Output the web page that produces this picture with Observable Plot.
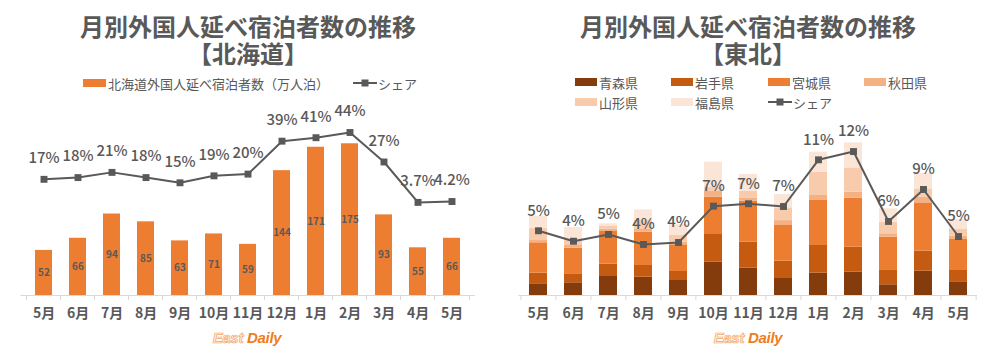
<!DOCTYPE html>
<html>
<head>
<meta charset="utf-8">
<script src="https://cdn.jsdelivr.net/npm/d3@7"></script>
<script src="https://cdn.jsdelivr.net/npm/@observablehq/plot@0.6"></script>
<style>
  body { margin: 0; background: #fff; }
  #wrap { position: relative; width: 1000px; height: 357px; overflow: hidden; background: #fff;
          font-family: "Noto Sans CJK JP", sans-serif; color: #595959; }
  .chart { position: absolute; top: 0; }
  .title { position: absolute; top: 12px; width: 500px; text-align: center; font-weight: bold;
           font-size: 24px; line-height: 27px; color: #595959; z-index: 2; }
  .leg { position: absolute; height: 16px; display: flex; align-items: center; white-space: nowrap;
         font-size: 13px; color: #595959; z-index: 2; }
  .sw { display: inline-block; width: 22px; height: 8px; margin-right: 2px; }
  .logo { position: absolute; top: 329px; width: 80px; text-align: center; font-family: "Liberation Sans", Arial, sans-serif;
          font-style: italic; font-weight: bold; font-size: 15px; letter-spacing: -0.3px; z-index: 2; }
  .logo .e { color: #fde9d9; -webkit-text-stroke: 0.7px #f5a96c; }
  .logo .d { color: #f07c1c; }
</style>
</head>
<body>
<div id="wrap"></div>
<script>
// ---- data ----
const months = ["5月","6月","7月","8月","9月","10月","11月","12月","1月","2月","3月","4月","5月"];

// Hokkaido: foreign overnight stays (万人泊) and share
const hkdValues = [52, 66, 94, 85, 63, 71, 59, 144, 171, 175, 93, 55, 66];
const hkdShare = [17, 18, 21, 18, 15, 19, 20, 39, 41, 44, 27, 3.7, 4.2];
const hkdShareLabels = ["17%","18%","21%","18%","15%","19%","20%","39%","41%","44%","27%","3.7%","4.2%"];

// Tohoku: stacked by prefecture (estimated, 万人泊) and share
const prefs = ["青森県","岩手県","宮城県","秋田県","山形県","福島県"];
const prefColors = ["#843c0c","#c55a11","#ed7d31","#f4b183","#f8cbad","#fbe5d6"];
const aomori    = [1.17, 1.27, 1.90, 1.83, 1.50, 3.33, 2.73, 1.70, 2.23, 2.33, 1.07, 2.43, 1.37];
const iwate     = [1.07, 0.90, 1.23, 1.17, 0.90, 2.77, 2.60, 1.73, 2.77, 2.50, 1.50, 2.00, 1.13];
const miyagi    = [3.03, 2.57, 3.27, 3.33, 2.67, 3.73, 4.10, 3.63, 4.50, 4.90, 3.27, 4.83, 3.10];
const akita     = [0.23, 0.33, 0.23, 0.33, 0.27, 0.60, 0.33, 0.43, 0.50, 0.60, 0.33, 0.57, 0.33];
const yamagata  = [1.23, 0.60, 0.27, 0.83, 0.67, 0.40, 0.67, 1.27, 2.33, 2.43, 1.17, 0.83, 0.67];
const fukushima = [1.20, 1.13, 0.27, 1.07, 1.07, 2.50, 1.67, 1.33, 2.00, 2.50, 1.33, 1.57, 1.00];
const tohokuShare = [5.02, 4.11, 4.70, 3.83, 4.00, 7.16, 7.37, 7.13, 11.19, 11.91, 5.83, 8.61, 4.52];
const tohokuShareLabels = ["5%","4%","5%","4%","4%","7%","7%","7%","11%","12%","6%","9%","5%"];

// ---- build ----
const font = '"Noto Sans CJK JP", sans-serif';
const grey = "#595959";
const idx = d3.range(months.length);
const wrap = document.getElementById("wrap");

function axisBits(step, pxPerUnit) {
  const tickLen = 5 / pxPerUnit;
  return [
    Plot.ruleY([0], {stroke: "#d9d9d9", strokeWidth: 1}),
    Plot.ruleX(idx, {x: d => d, y1: 0, y2: -tickLen, dx: -step / 2, stroke: "#d9d9d9"}),
    Plot.ruleX([idx[idx.length - 1]], {x: d => d, y1: 0, y2: -tickLen, dx: step / 2, stroke: "#d9d9d9"}),
    Plot.axisX({tickSize: 0, tickPadding: 12.5, tickFormat: i => months[i], fontSize: 14,
                fontWeight: "bold", fill: grey, label: null})
  ];
}

// Left chart: Hokkaido
{
  const mL = 20.5, mR = 25, W = 500, H = 357, mB = 62;
  const pxPerUnit = 0.867, yMax = 200;
  const mT = (H - mB) - yMax * pxPerUnit;
  const step = (W - mL - mR) / months.length;
  const shareY = s => 100 + 2 * s; // secondary axis mapping
  const rows = idx.map(i => ({i, v: hkdValues[i], s: hkdShare[i], lab: hkdShareLabels[i]}));
  const svg = Plot.plot({
    width: W, height: H, marginLeft: mL, marginRight: mR, marginTop: mT, marginBottom: mB,
    style: {fontFamily: font, background: "transparent", overflow: "visible", color: grey},
    x: {type: "band", domain: idx, paddingInner: 0.5, paddingOuter: 0.25, axis: null, label: null},
    y: {domain: [0, yMax], axis: null, label: null},
    marks: [
      Plot.barY(rows, {x: "i", y: "v", fill: "#ed7d31"}),
      ...axisBits(step, pxPerUnit),
      Plot.text(rows, {x: "i", y: d => d.v / 2, text: d => String(d.v), fontSize: 10, fontWeight: "bold", fill: grey}),
      Plot.line(rows, {x: "i", y: d => shareY(d.s), stroke: grey, strokeWidth: 2}),
      Plot.dot(rows, {x: "i", y: d => shareY(d.s), symbol: "square", r: 3.9, fill: grey, stroke: "none"}),
      Plot.text(rows, {x: "i", y: d => shareY(d.s), text: "lab", dy: -21, fontSize: 15, fontWeight: 500, fill: grey})
    ]
  });
  svg.classList.add("chart");
  svg.style.left = "0px";
  wrap.appendChild(svg);
}

// Right chart: Tohoku
{
  const mL = 18.5, mR = 23, W = 500, H = 357, mB = 62;
  const pxPerUnit = 10, yMax = 16;
  const mT = (H - mB) - yMax * pxPerUnit;
  const step = (W - mL - mR) / months.length;
  const series = [aomori, iwate, miyagi, akita, yamagata, fukushima];
  const stackRows = [];
  idx.forEach(i => prefs.forEach((p, j) => stackRows.push({i, pref: p, v: series[j][i]})));
  const shareY = s => 0.7 + 1.15 * s; // secondary axis mapping
  const lineRows = idx.map(i => ({i, s: tohokuShare[i], lab: tohokuShareLabels[i]}));
  const svg = Plot.plot({
    width: W, height: H, marginLeft: mL, marginRight: mR, marginTop: mT, marginBottom: mB,
    style: {fontFamily: font, background: "transparent", overflow: "visible", color: grey},
    x: {type: "band", domain: idx, paddingInner: 0.5, paddingOuter: 0.25, axis: null, label: null},
    y: {domain: [0, yMax], axis: null, label: null},
    color: {domain: prefs, range: prefColors},
    marks: [
      Plot.barY(stackRows, {x: "i", y: "v", fill: "pref", order: prefs}),
      ...axisBits(step, pxPerUnit),
      Plot.line(lineRows, {x: "i", y: d => shareY(d.s), stroke: grey, strokeWidth: 2}),
      Plot.dot(lineRows, {x: "i", y: d => shareY(d.s), symbol: "square", r: 3.9, fill: grey, stroke: "none"}),
      Plot.text(lineRows, {x: "i", y: d => shareY(d.s), text: "lab", dy: -20, fontSize: 15, fontWeight: 500, fill: grey})
    ]
  });
  svg.classList.add("chart");
  svg.style.left = "500px";
  wrap.appendChild(svg);
}

// ---- titles, legends, logos (HTML overlays) ----
function el(html) { const t = document.createElement("template"); t.innerHTML = html.trim(); return t.content.firstChild; }
const lineIcon = '<svg width="24" height="10" style="margin-right:1px"><line x1="0" y1="5" x2="24" y2="5" stroke="#595959" stroke-width="2"/><rect x="8.5" y="1.5" width="7" height="7" fill="#595959"/></svg>';

wrap.appendChild(el('<div class="title" style="left:-2px">月別外国人延べ宿泊者数の推移<br>【北海道】</div>'));
wrap.appendChild(el('<div class="title" style="left:498px">月別外国人延べ宿泊者数の推移<br>【東北】</div>'));

wrap.appendChild(el('<div class="leg" style="left:83px;top:75px"><span class="sw" style="background:#ed7d31;width:23px"></span>北海道外国人延べ宿泊者数（万人泊）</div>'));
wrap.appendChild(el('<div class="leg" style="left:353px;top:75px">' + lineIcon + 'シェア</div>'));

const legX = [575, 671, 768, 864];
prefs.forEach((p, j) => {
  const col = j % 4, row = Math.floor(j / 4);
  wrap.appendChild(el(`<div class="leg" style="left:${legX[col]}px;top:${74 + row * 20}px"><span class="sw" style="background:${prefColors[j]}"></span>${p}</div>`));
});
wrap.appendChild(el(`<div class="leg" style="left:${legX[2]}px;top:94px">${lineIcon}シェア</div>`));

wrap.appendChild(el('<div class="logo" style="left:207px"><span class="e">East</span> <span class="d">Daily</span></div>'));
wrap.appendChild(el('<div class="logo" style="left:708px"><span class="e">East</span> <span class="d">Daily</span></div>'));
</script>
</body>
</html>
